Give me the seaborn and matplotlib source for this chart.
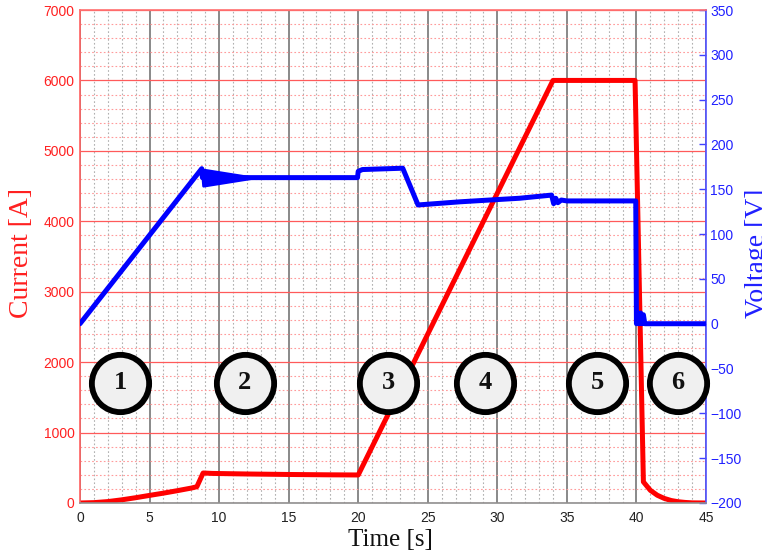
import numpy as np
import pandas as pd
import matplotlib
matplotlib.use("Agg")
import matplotlib.pyplot as plt
import seaborn as sns
from matplotlib.ticker import MultipleLocator

# ---------------- data ----------------
current_t = [0, 1, 2, 3, 4, 5, 6, 7, 8, 8.4, 8.85, 9.5, 12, 15, 18, 20,
             34, 39.9, 40.5, 41, 41.5, 42, 42.5, 43, 43.5, 44, 45]
current_a = [0, 5, 20, 45, 75, 108, 140, 175, 212, 231, 426, 420, 412, 405, 400, 398,
             6000, 6000, 300, 180, 110, 65, 35, 18, 8, 2, 0]

volt_t = [0, 8.75, 8.8, 12.5, 19.95, 20.0, 20.3, 23.2, 24.3, 27.3, 31.6, 33.9,
          34.05, 34.2, 34.35, 34.6, 35.0, 39.95, 40.0, 40.1, 40.2, 40.3, 40.4,
          40.5, 40.6, 45]
volt_v = [0, 173, 163, 163, 163, 170, 172, 173.5, 132.5, 136, 140, 143.5,
          134, 140, 135, 138, 137, 137, 0, 12, 0, 12, 0, 10, 0, 0]

# damped-oscillation envelope after the ramp (phase 2)
osc_t = [8.75, 8.85, 12.5]
osc_hi = [173, 172, 163]
osc_lo = [173, 154, 163]

phase_labels = ["1", "2", "3", "4", "5", "6"]
phase_t = [2.88, 11.86, 22.14, 29.1, 37.2, 43.0]
phase_v = [-66, -66, -66, -66, -66, -66]

x_ticks = [0, 5, 10, 15, 20, 25, 30, 35, 40, 45]
i_ticks = [0, 1000, 2000, 3000, 4000, 5000, 6000, 7000]
v_ticks = [-200, -150, -100, -50, 0, 50, 100, 150, 200, 250, 300, 350]

cur_df = pd.DataFrame({"t": current_t, "I": current_a})
volt_df = pd.DataFrame({"t": volt_t, "V": volt_v})

# ---------------- figure ----------------
sns.set_style("white")
plt.rcParams["font.family"] = ["Liberation Sans", "DejaVu Sans"]

fig = plt.figure(figsize=(7.62, 5.53), dpi=100)
ax = fig.add_axes([80 / 762, 1 - 503 / 553, (706 - 80) / 762, (503 - 10) / 553])
ax2 = ax.twinx()

# grid on current axis
ax.set_xlim(0, 45)
ax.set_ylim(0, 7000)
ax.xaxis.set_major_locator(MultipleLocator(5))
ax.xaxis.set_minor_locator(MultipleLocator(1))
ax.yaxis.set_major_locator(MultipleLocator(1000))
ax.yaxis.set_minor_locator(MultipleLocator(200))
ax.set_axisbelow(True)
ax.grid(False)
ax.xaxis.grid(True, which="major", color="#6a6a6a", lw=1.1, ls="-")
ax.xaxis.grid(True, which="minor", color="#b0b0b0", lw=0.8, ls=(0, (1.5, 2)))
ax.yaxis.grid(True, which="major", color="#ff5a5a", lw=0.9, ls="-")
ax.yaxis.grid(True, which="minor", color="#ff9a9a", lw=0.8, ls=(0, (1.5, 2)))

sns.lineplot(data=cur_df, x="t", y="I", ax=ax, color="#ff0000", linewidth=3.6,
             estimator=None, sort=False, zorder=3)

ax.set_xticks(x_ticks)
ax.set_yticks(i_ticks)
ax.set_xlabel("")
ax.set_ylabel("")
ax.tick_params(axis="x", which="both", length=0, pad=6, labelsize=10, labelcolor="#222222")
ax.tick_params(axis="y", which="both", length=0, pad=4, labelsize=10, labelcolor="#ff2020")
for s in ax.spines.values():
    s.set_visible(False)

# voltage axis
ax2.set_ylim(-200, 350)
ax2.fill_between(osc_t, osc_lo, osc_hi, color="#0000ff", lw=2, edgecolor="#0000ff", zorder=3)
sns.lineplot(data=volt_df, x="t", y="V", ax=ax2, color="#0000ff", linewidth=3.6,
             estimator=None, sort=False, zorder=4)
ax2.set_xlim(0, 45)
ax2.set_yticks(v_ticks)
ax2.set_ylabel("")
ax2.tick_params(axis="y", which="both", direction="in", length=5, width=1,
                color="#4040ff", pad=3, labelsize=10, labelcolor="#2020ff")
ax2.spines["right"].set_color("#5050ff")
ax2.spines["left"].set_color("#ff6060")
ax2.spines["top"].set_color("#ff7070")
ax2.spines["bottom"].set_color("#909090")
for s in ax2.spines.values():
    s.set_linewidth(1.2)

# phase markers
ax2.scatter(phase_t, phase_v, s=1700, facecolor="#f0f0f0", edgecolor="black",
            linewidth=4.2, zorder=6, clip_on=False)
for lab, tx, vy in zip(phase_labels, phase_t, phase_v):
    ax2.text(tx, vy, lab, ha="center", va="center", fontsize=19, fontweight="bold",
             family=["Liberation Serif", "DejaVu Serif"], color="#111111", zorder=7)

# axis titles
fig.text(22 / 762, 1 - 253 / 553, "Current [A]", rotation=90, ha="center", va="center",
         fontsize=20, color="#ff2020", family=["Liberation Serif", "DejaVu Serif"])
fig.text(745 / 762, 1 - 318 / 553, "Voltage [V]", rotation=90, ha="left", va="bottom",
         fontsize=20, color="#2020ff", family=["Liberation Serif", "DejaVu Serif"])
fig.text(390 / 762, 1 - 540 / 553, "Time [s]", ha="center", va="center",
         fontsize=18, color="#111111", family=["Liberation Serif", "DejaVu Serif"])

fig.savefig("out.png", dpi=100)
